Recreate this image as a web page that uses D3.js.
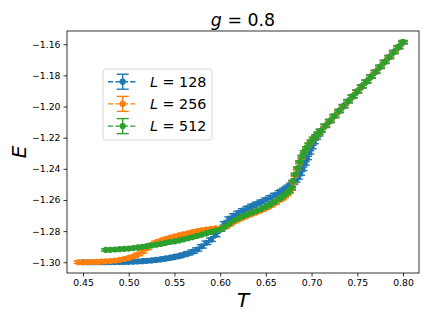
<!DOCTYPE html>
<html>
<head>
<meta charset="utf-8">
<script src="https://cdn.jsdelivr.net/npm/d3@7"></script>
<style>
body { margin: 0; background: #fff; }
svg { display: block; font-family: "DejaVu Sans", sans-serif; }
</style>
</head>
<body>
<div id="chart"></div>
<script>
// Values
let temps128 = [0.450, 0.455, 0.460, 0.465, 0.470, 0.475, 0.480, 0.485, 0.490, 0.495,
    0.500, 0.505, 0.510, 0.515, 0.520, 0.525, 0.530, 0.535, 0.540, 0.545,
    0.550, 0.555, 0.560, 0.565, 0.570, 0.575, 0.580, 0.585, 0.590, 0.595,
    0.600, 0.605, 0.610, 0.615, 0.620, 0.625, 0.630, 0.635, 0.640, 0.645,
    0.650, 0.655, 0.660, 0.665, 0.6675, 0.670, 0.6725, 0.675, 0.6775, 0.680,
    0.6825, 0.685, 0.6875, 0.690, 0.6925, 0.695, 0.6975, 0.700, 0.7025, 0.705, 0.7075];
let energy128 = [-1.3000, -1.3000, -1.3000, -1.3000, -1.3000, -1.3000, -1.2999, -1.2999, -1.2998, -1.2998,
    -1.2997, -1.2996, -1.2995, -1.2993, -1.2991, -1.2988, -1.2985, -1.2981, -1.2977, -1.2972,
    -1.2966, -1.2960, -1.2952, -1.2943, -1.2932, -1.2918, -1.2898, -1.2875, -1.2855, -1.2825,
    -1.2790, -1.2750, -1.2720, -1.2700, -1.2683, -1.2667, -1.2652, -1.2638, -1.2625, -1.2612,
    -1.2598, -1.2583, -1.2568, -1.2552, -1.2544, -1.2535, -1.2525, -1.2515, -1.2503, -1.2490,
    -1.2474, -1.2455, -1.2430, -1.2400, -1.2365, -1.2330, -1.2295, -1.2260, -1.2228, -1.2200, -1.2178];

let temps256 = [0.445, 0.450, 0.455, 0.460, 0.465, 0.470, 0.475, 0.480, 0.485, 0.490, 0.495,
    0.500, 0.505, 0.510, 0.515, 0.520, 0.525, 0.530, 0.535, 0.540, 0.545,
    0.550, 0.555, 0.560, 0.565, 0.570, 0.575, 0.580, 0.585, 0.590, 0.595,
    0.600, 0.605, 0.610, 0.615, 0.620, 0.625, 0.630, 0.635, 0.640, 0.645,
    0.650, 0.655, 0.660, 0.665, 0.6675, 0.670, 0.6725, 0.675, 0.6775, 0.680,
    0.6825, 0.685, 0.6875, 0.690, 0.6925, 0.695, 0.6975, 0.700, 0.7025, 0.705, 0.7075];
let energy256 = [-1.3000, -1.3000, -1.2999, -1.2999, -1.2998, -1.2996, -1.2994, -1.2992, -1.2989, -1.2985, -1.2979,
    -1.2972, -1.2963, -1.2950, -1.2932, -1.2910, -1.2888, -1.2872, -1.2862, -1.2852, -1.2843,
    -1.2835, -1.2828, -1.2821, -1.2814, -1.2807, -1.2800, -1.2795, -1.2790, -1.2786, -1.2783,
    -1.2785, -1.2775, -1.2758, -1.2740, -1.2725, -1.2712, -1.2700, -1.2689, -1.2677, -1.2665,
    -1.2652, -1.2637, -1.2620, -1.2600, -1.2590, -1.2578, -1.2565, -1.2550, -1.2530, -1.2488,
    -1.2442, -1.2400, -1.2360, -1.2325, -1.2294, -1.2268, -1.2245, -1.2225, -1.2206, -1.2190, -1.2173];

let temps512 = [0.475, 0.480, 0.485, 0.490, 0.495,
    0.500, 0.505, 0.510, 0.515, 0.520, 0.525, 0.530, 0.535, 0.540, 0.545,
    0.550, 0.555, 0.560, 0.565, 0.570, 0.575, 0.580, 0.585, 0.590, 0.595,
    0.600, 0.605, 0.610, 0.615, 0.620, 0.625, 0.630, 0.635, 0.640, 0.645,
    0.650, 0.655, 0.660, 0.665, 0.6675, 0.670, 0.6725, 0.675, 0.6775, 0.680,
    0.6825, 0.685, 0.6875, 0.690, 0.6925, 0.695, 0.6975, 0.700, 0.7025, 0.705, 0.7075];
let energy512 = [-1.2921, -1.2920, -1.2918, -1.2916, -1.2914,
    -1.2912, -1.2909, -1.2905, -1.2901, -1.2897, -1.2892, -1.2887, -1.2882, -1.2876, -1.2870,
    -1.2866, -1.2860, -1.2853, -1.2846, -1.2838, -1.2830, -1.2822, -1.2813, -1.2805, -1.2796,
    -1.2790, -1.2772, -1.2752, -1.2732, -1.2718, -1.2705, -1.2693, -1.2682, -1.2670, -1.2658,
    -1.2645, -1.2630, -1.2612, -1.2592, -1.2582, -1.2570, -1.2558, -1.2545, -1.2525, -1.2480,
    -1.2435, -1.2395, -1.2355, -1.2320, -1.2290, -1.2265, -1.2242, -1.2222, -1.2204, -1.2188, -1.2172];

// high-T branch, the three sizes lie on top of each other there
let tempsHigh = [0.710, 0.715, 0.720, 0.725, 0.730, 0.735, 0.740, 0.745, 0.750, 0.755,
    0.760, 0.765, 0.770, 0.775, 0.780, 0.785, 0.790, 0.795, 0.800];
let energyHigh = [-1.2156, -1.2124, -1.2093, -1.2061, -1.2029, -1.1998, -1.1966, -1.1935, -1.1903, -1.1871,
    -1.1840, -1.1808, -1.1777, -1.1745, -1.1713, -1.1682, -1.1650, -1.1619, -1.1587];

let sizes = [128, 256, 512];
let errSizes = [0.0011, 0.0008, 0.0007];
let colors = ["#1f77b4", "#ff7f0e", "#2ca02c"];
let xTicks = [0.45, 0.50, 0.55, 0.60, 0.65, 0.70, 0.75, 0.80];
let yTicks = [-1.30, -1.28, -1.26, -1.24, -1.22, -1.20, -1.18, -1.16];

// Set the margins
let svgWidth = 429;
let svgHeight = 322;
let margin = { top: 31, right: 10, bottom: 49, left: 67 };
let width = svgWidth - margin.left - margin.right;
let height = svgHeight - margin.top - margin.bottom;

let svg = d3.select("#chart")
    .append("svg")
    .attr("width", svgWidth)
    .attr("height", svgHeight);

let chartGroup = svg.append("g")
    .attr("transform", `translate(${margin.left}, ${margin.top})`);

let xScale = d3.scaleLinear().domain([0.4325, 0.8175]).range([0, width]);
let yScale = d3.scaleLinear().domain([-1.3069, -1.1515]).range([height, 0]);

// build the series
let allTemps = [temps128, temps256, temps512];
let allEnergy = [energy128, energy256, energy512];
let series = sizes.map((L, i) => ({
    L: L,
    color: colors[i],
    err: errSizes[i],
    points: allTemps[i].concat(tempsHigh).map((t, j) => ({
        t: t,
        e: j < allTemps[i].length ? allEnergy[i][j] : energyHigh[j - allTemps[i].length]
    }))
}));

let minus = s => s.replace("-", "\u2212");

// axes
let xAxis = chartGroup.append("g")
    .attr("transform", `translate(0, ${height})`)
    .call(d3.axisBottom(xScale).tickValues(xTicks).tickFormat(d => d3.format(".2f")(d)).tickSize(3.5).tickPadding(3));
let yAxis = chartGroup.append("g")
    .call(d3.axisLeft(yScale).tickValues(yTicks).tickFormat(d => minus(d3.format(".2f")(d))).tickSize(3.5).tickPadding(3));

[xAxis, yAxis].forEach(ax => {
    ax.select(".domain").remove();
    ax.selectAll("line").attr("stroke", "#000").attr("stroke-width", 0.8);
    ax.selectAll("text").attr("font-family", "DejaVu Sans").attr("font-size", 9.3).attr("fill", "#000");
});

let marks = chartGroup.append("g");

// error bars first, then the dashed lines with markers on top
series.forEach(s => {
    let g = marks.append("g").attr("stroke", s.color).attr("stroke-width", 1.4);
    g.selectAll(".bar")
        .data(s.points)
        .join("line")
        .attr("x1", d => xScale(d.t))
        .attr("x2", d => xScale(d.t))
        .attr("y1", d => yScale(d.e - s.err))
        .attr("y2", d => yScale(d.e + s.err));
    [-1, 1].forEach(sign => {
        g.selectAll(null)
            .data(s.points)
            .join("line")
            .attr("x1", d => xScale(d.t) - 5)
            .attr("x2", d => xScale(d.t) + 5)
            .attr("y1", d => yScale(d.e + sign * s.err))
            .attr("y2", d => yScale(d.e + sign * s.err));
    });
});

series.forEach(s => {
    marks.append("path")
        .datum(s.points)
        .attr("fill", "none")
        .attr("stroke", s.color)
        .attr("stroke-width", 1.4)
        .attr("stroke-dasharray", "5.2,2.2")
        .attr("d", d3.line().x(d => xScale(d.t)).y(d => yScale(d.e)));
    marks.append("g")
        .selectAll("circle")
        .data(s.points)
        .join("circle")
        .attr("cx", d => xScale(d.t))
        .attr("cy", d => yScale(d.e))
        .attr("r", 3.1)
        .attr("fill", s.color);
});

// frame
chartGroup.append("rect")
    .attr("width", width)
    .attr("height", height)
    .attr("fill", "none")
    .attr("stroke", "#000")
    .attr("stroke-width", 0.8);

// title and axis labels
let title = svg.append("text")
    .attr("x", margin.left + width / 2)
    .attr("y", 26)
    .attr("text-anchor", "middle")
    .attr("font-size", 17.4);
title.append("tspan").attr("font-style", "italic").text("g");
title.append("tspan").text(" = 0.8");

svg.append("text")
    .attr("x", margin.left + width / 2)
    .attr("y", 307)
    .attr("text-anchor", "middle")
    .attr("font-size", 20)
    .attr("font-style", "italic")
    .text("T");

svg.append("text")
    .attr("transform", `translate(26, ${margin.top + height / 2}) rotate(-90)`)
    .attr("text-anchor", "middle")
    .attr("font-size", 20)
    .attr("font-style", "italic")
    .text("E");

// legend
let legend = svg.append("g");
legend.append("rect")
    .attr("x", 103)
    .attr("y", 69)
    .attr("width", 109)
    .attr("height", 71)
    .attr("rx", 3)
    .attr("fill", "#fff")
    .attr("fill-opacity", 0.8)
    .attr("stroke", "#cccccc")
    .attr("stroke-width", 0.8);

series.forEach((s, i) => {
    let cy = 81.7 + i * 22.2;
    let item = legend.append("g").attr("stroke", s.color).attr("stroke-width", 1.4);
    item.append("line")
        .attr("x1", 108).attr("x2", 137.5)
        .attr("y1", cy).attr("y2", cy)
        .attr("stroke-dasharray", "5.2,2.2");
    item.append("line")
        .attr("x1", 122.7).attr("x2", 122.7)
        .attr("y1", cy - 7.5).attr("y2", cy + 7.5);
    [-7.5, 7.5].forEach(dy => {
        item.append("line")
            .attr("x1", 116.7).attr("x2", 128.7)
            .attr("y1", cy + dy).attr("y2", cy + dy);
    });
    item.append("circle")
        .attr("cx", 122.7).attr("cy", cy).attr("r", 3.1)
        .attr("fill", s.color).attr("stroke", "none");
    let label = legend.append("text")
        .attr("x", 150)
        .attr("y", cy + 5)
        .attr("font-size", 14.3);
    label.append("tspan").attr("font-style", "italic").text("L");
    label.append("tspan").text(" = " + s.L);
});
</script>
</body>
</html>
